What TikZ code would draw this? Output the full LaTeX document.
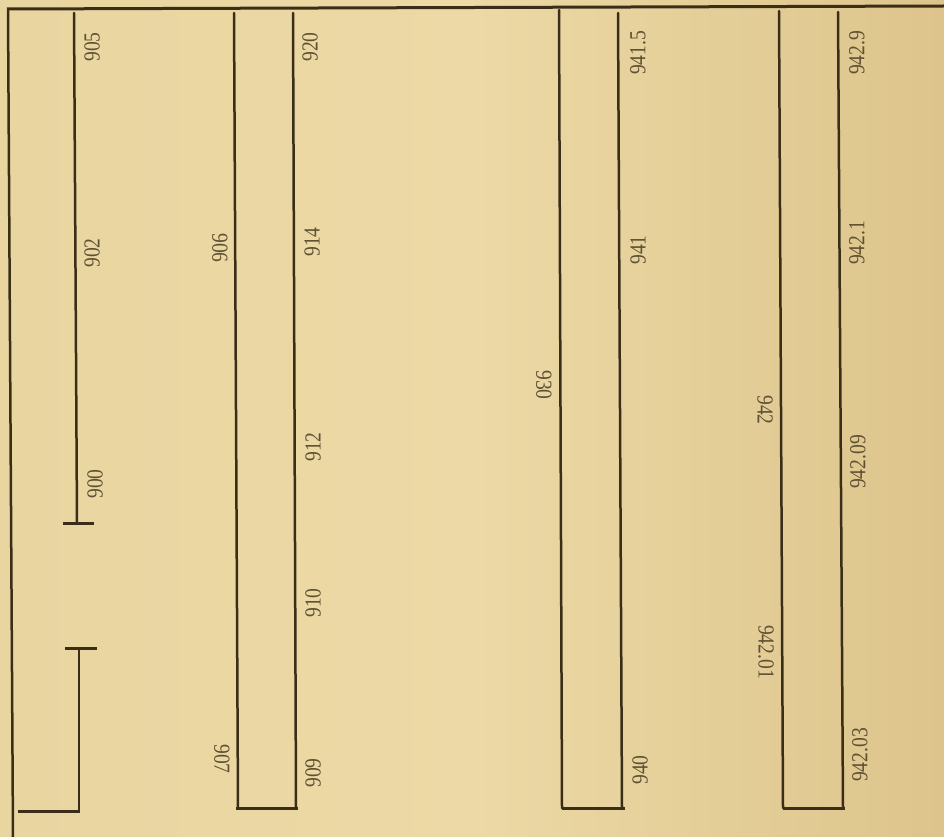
\documentclass[tikz,border=0pt]{standalone}
\usepackage{fontspec}
\newfontfamily\labfont[FakeStretch=0.85]{Liberation Serif}
\definecolor{paper}{RGB}{233,213,160}
\definecolor{paperedge}{RGB}{221,196,140}
\definecolor{paperlight}{RGB}{236,217,165}
\definecolor{ink}{RGB}{58,46,24}
\definecolor{labink}{RGB}{95,82,52}
\begin{document}
\begin{tikzpicture}[x=1pt,y=-1pt,
  rule/.style={draw=ink,line width=2.5pt,line cap=round},
  base/.style={draw=ink,line width=3pt},
  lab/.style={text=labink,font=\labfont\fontsize{23}{23}\selectfont,inner sep=0pt,rotate=90},
  labr/.style={lab,rotate=180}]
\shade[left color=paper,right color=paperedge,middle color=paperlight]
  (0,0) rectangle (944,837);
\useasboundingbox (0,0) rectangle (944,837);
% frame
\draw[base] (7,9) -- (944,6);
\draw[rule] (8,10) -- (13,837);
% column 1
\coordinate (c1t) at (74,13);
\coordinate (c1b) at (77,523);
\draw[rule] (c1t) -- (c1b);
\draw[base] (63,523) -- (94,523);
\draw[base] (65,648) -- (97,648);
\draw[rule] (79,648) -- (79,811);
\draw[base] (18,811) -- (80,811);
% column 2
\draw[rule] (234,13) -- (238,808);
\draw[rule] (293,13) -- (296,808);
\draw[base] (236,808) -- (298,808);
% column 3
\draw[rule] (559,10) -- (562,808);
\draw[rule] (618,13) -- (622,808);
\draw[base] (562,808) -- (625,808);
% column 4
\draw[rule] (779,11) -- (783,808);
\draw[rule] (838,12) -- (843,808);
\draw[base] (783,808) -- (845,808);
% labels
\node[lab] (l905) at (92,47) {905};
\node[lab] (l902) at (92,253) {902};
\node[lab] (l900) at (95,484) {900};
\node[labr] (l906) at (220,248) {906};
\node[labr] (l907) at (222,759) {907};
\node[lab] (l920) at (310,47) {920};
\node[lab] (l914) at (312,242) {914};
\node[lab] (l912) at (313,447) {912};
\node[lab] (l910) at (313,603) {910};
\node[lab] (l909) at (313,773) {909};
\node[labr] (l930) at (544,385) {930};
\node[lab] (l9415) at (638,53) {941.5};
\node[lab] (l941) at (638,250) {941};
\node[lab] (l940) at (640,770) {940};
\node[labr] (l942) at (765,410) {942};
\node[labr] (l94201) at (766,652) {942.01};
\node[lab] (l9429) at (857,53) {942.9};
\node[lab] (l9421) at (857,243) {942.1};
\node[lab] (l94209) at (858,462) {942.09};
\node[lab] (l94203) at (860,755) {942.03};
\end{tikzpicture}
\end{document}
